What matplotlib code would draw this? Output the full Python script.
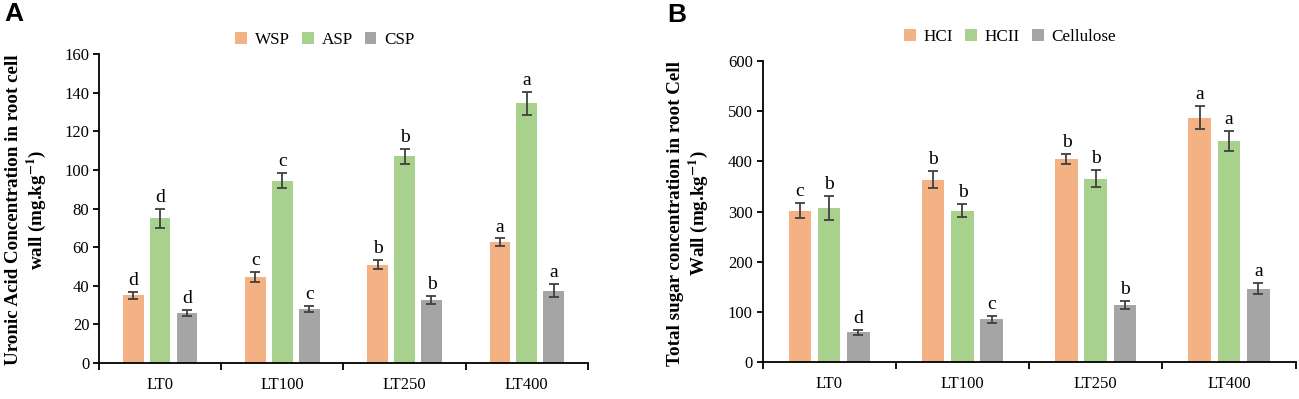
import matplotlib
matplotlib.use("Agg")
import matplotlib.pyplot as plt
import numpy as np

plt.rcParams["mathtext.fontset"] = "stix"

categories = ["LT0", "LT100", "LT250", "LT400"]

# Panel A
a_series = ["WSP", "ASP", "CSP"]
a_values = [[35.0, 44.5, 51.0, 62.5],
            [75.0, 94.5, 107.0, 134.5],
            [26.0, 28.0, 32.5, 37.5]]
a_errors = [[2.0, 2.5, 2.5, 2.0],
            [5.0, 4.0, 4.0, 6.0],
            [1.5, 1.5, 2.0, 3.5]]
a_letters = [["d", "c", "b", "a"],
             ["d", "c", "b", "a"],
             ["d", "c", "b", "a"]]

# Panel B
b_series = ["HCI", "HCII", "Cellulose"]
b_values = [[302, 363, 405, 487],
            [307, 302, 365, 440],
            [59, 85, 114, 146]]
b_errors = [[15, 17, 10, 23],
            [23, 12, 17, 20],
            [5, 7, 8, 11]]
b_letters = [["c", "b", "b", "a"],
             ["b", "b", "b", "a"],
             ["d", "c", "b", "a"]]

colors = ["#F4B183", "#A9D18E", "#A5A5A5"]
serif = ["Liberation Serif", "DejaVu Serif"]

fig = plt.figure(figsize=(12.99, 3.99), dpi=100)

def panel(rect, series, values, errors, letters, ylim, ystep, ylabel, letter_off,
          legend_anchor, label_xy, panel_label, plabel_xy):
    ax = fig.add_axes(rect)
    x = np.arange(len(categories))
    width = 0.17
    offs = [-0.22, 0.0, 0.22]
    for i, s in enumerate(series):
        ax.bar(x + offs[i], values[i], width, color=colors[i], label=s, zorder=2)
        ax.errorbar(x + offs[i], values[i], yerr=errors[i], fmt="none",
                    ecolor="#404040", elinewidth=1.3, capsize=3.5, capthick=1.3, zorder=3)
        for j in range(len(categories)):
            ax.text(x[j] + offs[i], values[i][j] + errors[i][j] + letter_off, letters[i][j],
                    ha="center", va="bottom", fontsize=14, family=serif)
    ax.set_xlim(-0.5, len(categories) - 0.5)
    ax.set_ylim(*ylim)
    ax.set_yticks(np.arange(ylim[0], ylim[1] + 1, ystep))
    ax.set_xticks(x)
    ax.set_xticklabels(categories, family=serif, fontsize=12)
    ax.set_xticks(np.arange(-0.5, len(categories)), minor=True)
    ax.tick_params(axis="x", which="major", length=0, pad=10)
    ax.tick_params(axis="x", which="minor", length=5, width=1.3, direction="out")
    ax.tick_params(axis="y", length=4, width=1.3, direction="out", pad=3)
    for lbl in ax.get_yticklabels():
        lbl.set_family(serif)
        lbl.set_fontsize(12)
    ax.spines["top"].set_visible(False)
    ax.spines["right"].set_visible(False)
    ax.spines["left"].set_linewidth(1.3)
    ax.spines["bottom"].set_linewidth(1.3)
    ax.set_ylabel(ylabel, family=serif, fontsize=13.7, fontweight="bold", linespacing=1.15)
    ax.yaxis.set_label_coords(label_xy[0], label_xy[1])
    ax.legend(loc="center", bbox_to_anchor=legend_anchor, ncol=3, frameon=False,
              prop={"family": serif, "size": 12.3}, handlelength=0.7, handleheight=0.7,
              handletextpad=0.45, columnspacing=0.7, borderaxespad=0)
    fig.text(plabel_xy[0], plabel_xy[1], panel_label, fontsize=19, fontweight="bold",
             family=["Liberation Sans", "DejaVu Sans"], ha="left", va="center")
    return ax

panel([0.0762, 0.0902, 0.3764, 0.7744], a_series, a_values, a_errors, a_letters,
      (0, 160), 20, "Uronic Acid Concentration in root cell\nwall (mg.kg$^{\\mathbf{-1}}$)", 1.5,
      (0.462, 1.045), (-0.104, 0.495), "A", (0.003, 0.965))

panel([0.587, 0.0927, 0.4105, 0.7544], b_series, b_values, b_errors, b_letters,
      (0, 600), 100, "Total sugar concentration in root Cell\nWall (mg.kg$^{\\mathbf{-1}}$)", 6,
      (0.464, 1.08), (-0.098, 0.495), "B", (0.5135, 0.962))

fig.savefig("out.png", dpi=100)
